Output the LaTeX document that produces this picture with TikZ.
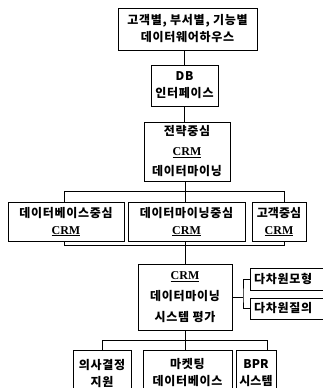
\documentclass[tikz,border=0pt]{standalone}
\usepackage{fontspec}
\newfontfamily\kr{Noto Sans CJK KR}[LetterSpace=6]
\newfontfamily\krn{Noto Sans CJK KR}
\newfontfamily\lat{Liberation Serif}
\newcommand\crmtext{{\lat\bfseries\underline{CRM}}}
\begin{document}
\begin{tikzpicture}[x=1pt,y=-1pt,
  box/.style={draw=black, line width=0.9pt, fill=white, inner sep=0pt, align=center,
    font=\kr\bfseries\fontsize{12}{17}\selectfont},
  tightbox/.style={box, font=\krn\bfseries\fontsize{12}{17}\selectfont},
  sidebox/.style={box, text width=72pt, align=left, inner xsep=4pt},
  wire/.style={draw=black, line width=0.9pt}]
\useasboundingbox (0,0) rectangle (323,388);
\clip (0,0) rectangle (323,388);
\fill[white] (0,0) rectangle (323,388);

\node[box, minimum width=139pt, minimum height=42pt] (b1) at (187.5,29) {고객별, 부서별, 기능별\\데이터웨어하우스};
\node[box, minimum width=67pt, minimum height=41pt] (b2) at (184.5,85.5) {DB\\인터페이스};
\node[box, minimum width=86pt, minimum height=59pt, font=\kr\bfseries\fontsize{12}{20}\selectfont] (b3) at (187,151.5) {전략중심\\\crmtext\\데이터마이닝};
\node[box, minimum width=116pt, minimum height=39pt] (b4) at (66,221.5) {데이터베이스중심\\\crmtext};
\node[box, minimum width=117pt, minimum height=39pt] (b5) at (186.5,221.5) {데이터마이닝중심\\\crmtext};
\node[tightbox, minimum width=54pt, minimum height=39pt] (b6) at (279,221.5) {고객중심\\\crmtext};
\node[box, minimum width=94pt, minimum height=66pt, font=\kr\bfseries\fontsize{12}{21}\selectfont] (b7) at (185,297) {\crmtext\\데이터마이닝\\시스템 평가};
\node[sidebox, minimum height=22pt] (b8) at (290,279) {다차원모형};
\node[sidebox, minimum height=21pt] (b9) at (290,308.5) {다차원질의};
\node[box, minimum width=58pt, minimum height=46pt] (b10) at (102,373) {의사결정\\지원};
\node[box, minimum width=89pt, minimum height=46pt] (b11) at (187.5,373) {마켓팅\\데이터베이스};
\node[tightbox, minimum width=40pt, minimum height=46pt] (b12) at (256,373) {BPR\\시스템};

\draw[wire] (b2.north) -- (b2.north |- b1.south);
\draw[wire] (b2.south) -- (b2.south |- b3.north);
\coordinate (t4) at (64,191);
\coordinate (t5) at (185,191);
\coordinate (t6) at (284,191);
\draw[wire] (t4 |- b4.north) -- (t4) -- (t6) -- (t6 |- b6.north);
\draw[wire] (t5 |- b3.south) -- (t5 |- b5.north);
\coordinate (u4) at (64,245);
\coordinate (u6) at (284,245);
\draw[wire] (u4 |- b4.south) -- (u4) -- (u6) -- (u6 |- b6.south);
\draw[wire] (b7.north) -- (b7.north |- b5.south);
\coordinate (r) at (243,297);
\draw[wire] (b7.east) -- (r);
\draw[wire] (b8.west) -| (r) |- (b9.west);
\coordinate (v10) at (102,340);
\coordinate (v12) at (267,340);
\draw[wire] (b7.south) -- (b7.south |- v10);
\draw[wire] (v10 |- b10.north) -- (v10) -- (v12) -- (v12 |- b12.north);
\draw[wire] (b7.south |- v10) -- (b7.south |- b11.north);
\end{tikzpicture}
\end{document}
